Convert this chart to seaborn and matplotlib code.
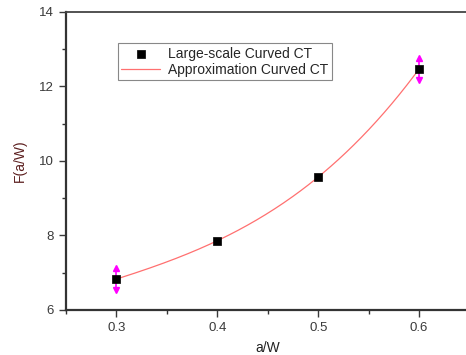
import matplotlib
matplotlib.use("Agg")
import matplotlib.pyplot as plt
import numpy as np
import pandas as pd
import seaborn as sns
from matplotlib.ticker import MultipleLocator

# Data
a_w = [0.3, 0.4, 0.5, 0.6]
f_aw = [6.83, 7.86, 9.57, 12.47]
err_x = [0.3, 0.6]
err_y = [6.83, 12.47]
err_size = [0.3, 0.3]

sns.set_style("white")
plt.rcParams["font.family"] = ["Liberation Sans", "DejaVu Sans"]

# Approximation curve: polynomial fit through the measured points
coef = np.polyfit(a_w, f_aw, 3)
x_fit = np.linspace(min(a_w), max(a_w), 200)
fit_df = pd.DataFrame({"x": x_fit, "y": np.polyval(coef, x_fit)})
pts_df = pd.DataFrame({"x": a_w, "y": f_aw})

fig = plt.figure(figsize=(4.66, 3.55), dpi=100)
ax = fig.add_axes([0.1416, 0.1268, 0.866, 0.8394])

sns.lineplot(data=fit_df, x="x", y="y", ax=ax, color="#ff7070", lw=0.9,
             label="Approximation Curved CT", zorder=2)
sns.scatterplot(data=pts_df, x="x", y="y", ax=ax, marker="s", s=34,
                color="black", edgecolor="black", linewidth=0.5,
                label="Large-scale Curved CT", zorder=4)

# magenta error bars with arrow heads
ax.errorbar(err_x, err_y, yerr=err_size, fmt="none", ecolor="magenta",
            elinewidth=1.2, zorder=3)
ax.plot(err_x, np.array(err_y) + np.array(err_size), "^", color="magenta",
        ms=4, zorder=3)
ax.plot(err_x, np.array(err_y) - np.array(err_size), "v", color="magenta",
        ms=4, zorder=3)

ax.set_xlim(0.25, 0.65)
ax.set_ylim(6, 14)
ax.xaxis.set_major_locator(MultipleLocator(0.1))
ax.xaxis.set_minor_locator(MultipleLocator(0.05))
ax.yaxis.set_major_locator(MultipleLocator(2))
ax.yaxis.set_minor_locator(MultipleLocator(1))
ax.set_xticks([0.3, 0.4, 0.5, 0.6])
ax.set_xticklabels(["0.3", "0.4", "0.5", "0.6"])

ax.tick_params(axis="both", which="major", direction="out", length=5,
               width=1, colors="#3a3a3a", labelsize=9.5, bottom=True, left=True)
ax.tick_params(axis="both", which="minor", direction="out", length=3,
               width=1, color="#333333", bottom=True, left=True)

for side in ["left", "bottom"]:
    ax.spines[side].set_color("#333333")
    ax.spines[side].set_linewidth(1.6)
ax.spines["top"].set_color("#444444")
ax.spines["top"].set_linewidth(1.3)
ax.spines["right"].set_visible(False)

ax.set_xlabel("a/W", fontsize=10, color="#222222", labelpad=5)
ax.set_ylabel("F(a/W)", fontsize=10, color="#5c1f1f")
ax.yaxis.set_label_coords(-0.098, 0.5)

handles, labels = ax.get_legend_handles_labels()
order = [labels.index("Large-scale Curved CT"), labels.index("Approximation Curved CT")]
leg = ax.legend([handles[i] for i in order], [labels[i] for i in order],
                loc="upper left", bbox_to_anchor=(0.128, 0.895),
                fontsize=10, frameon=True, fancybox=False, framealpha=1,
                edgecolor="#888888", borderpad=0.25, handlelength=2.8,
                handletextpad=0.6, labelspacing=0.15, borderaxespad=0)
leg.get_frame().set_linewidth(0.8)

fig.savefig("out.png", dpi=100)
